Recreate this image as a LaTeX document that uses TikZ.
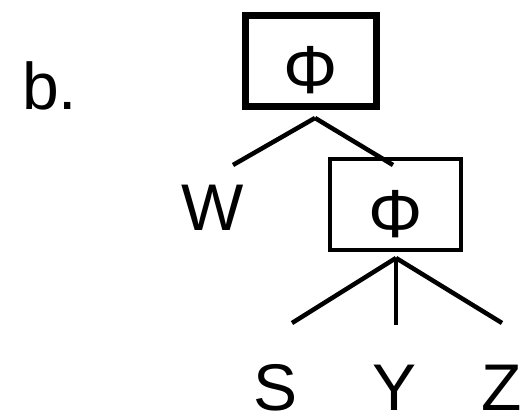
\documentclass[tikz,border=0pt]{standalone}
\usepackage{fontspec}
\setmainfont{Liberation Sans}

\begin{document}
\begin{tikzpicture}[x=1pt,y=-1pt,
    leg/.style={line width=4.5pt},
    lbl/.style={font=\fontsize{66}{66}\selectfont,anchor=base,inner sep=0pt,text depth=0pt},
    phibox/.style={draw,font=\fontsize{68}{68}\selectfont,inner sep=0pt,
                   text height=66pt,text depth=0pt,
                   minimum width=131pt,minimum height=91pt}]
    \useasboundingbox (0,0) rectangle (532,417);
    \node[lbl,anchor=base west] (tag) at (22,110) {b.};

    %upper phi
    \node[phibox,line width=7pt] (phiA) at (311,61) {Φ};
    \coordinate (forkA) at (315,118);
    \coordinate (legW) at (233,165);
    \coordinate (legB) at (393,165);
    \draw[leg] (forkA) -- (legW);
    \draw[leg] (forkA) -- (legB);
    \node[lbl] (W) at (213,230) {W};

    %lower phi
    \node[phibox,line width=4pt] (phiB) at (395.5,204.5) {Φ};
    \coordinate (forkB) at (396,258);
    \coordinate (legS) at (292,323);
    \coordinate (legY) at (396,325);
    \coordinate (legZ) at (502,323);
    \foreach \e in {legS,legY,legZ}
      \draw[leg] (forkB) -- (\e);
    \node[lbl] (S) at (276,410) {S};
    \node[lbl] (Y) at (395,410) {Y};
    \node[lbl] (Z) at (502,410) {Z};
\end{tikzpicture}
\end{document}
